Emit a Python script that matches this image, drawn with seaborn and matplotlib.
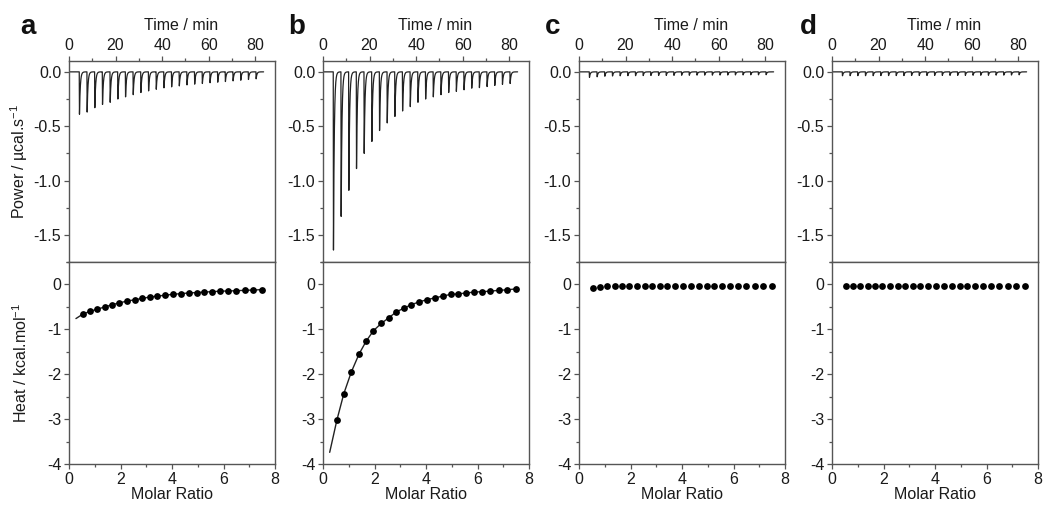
import numpy as np
import pandas as pd
import matplotlib
matplotlib.use("Agg")
import matplotlib.pyplot as plt
import seaborn as sns
from matplotlib.ticker import MultipleLocator, FormatStrFormatter

# ===============================
# Data
# ===============================
panel_letters = ["a", "b", "c", "d"]

# injection times (min), same protocol for every titration
inj_times = [4.4, 7.7, 11.0, 14.3, 17.6, 20.9, 24.2, 27.5, 30.8, 34.1, 37.4, 40.7,
             44.0, 47.3, 50.6, 53.9, 57.2, 60.5, 63.8, 67.1, 70.4, 73.7, 77.0, 80.3]
run_end = 83.6

# peak minimum of each injection (ucal/s)
peaks_a = [-0.39, -0.37, -0.33, -0.30, -0.28, -0.25, -0.23, -0.21, -0.19, -0.175, -0.16, -0.147,
           -0.138, -0.129, -0.12, -0.113, -0.107, -0.10, -0.095, -0.089, -0.083, -0.077, -0.07, -0.064]
peaks_b = [-1.64, -1.33, -1.09, -0.89, -0.75, -0.64, -0.54, -0.47, -0.41, -0.36, -0.32, -0.28,
           -0.25, -0.23, -0.21, -0.19, -0.18, -0.165, -0.15, -0.145, -0.135, -0.125, -0.115, -0.107]
peaks_c = [-0.05, -0.045, -0.04, -0.038, -0.036, -0.035, -0.035, -0.034, -0.033, -0.033, -0.032, -0.032,
           -0.031, -0.031, -0.030, -0.030, -0.030, -0.029, -0.029, -0.028, -0.028, -0.027, -0.027, -0.026]
peaks_d = [-0.036, -0.035, -0.035, -0.035, -0.035, -0.034, -0.034, -0.034, -0.034, -0.033, -0.033, -0.033,
           -0.033, -0.032, -0.032, -0.032, -0.032, -0.031, -0.031, -0.031, -0.030, -0.030, -0.029, -0.027]

# integrated heats (kcal/mol) vs molar ratio
molar_ratio = [0.54, 0.81, 1.10, 1.40, 1.68, 1.96, 2.26, 2.56, 2.85, 3.14, 3.43, 3.73,
               4.03, 4.34, 4.65, 4.96, 5.25, 5.56, 5.88, 6.19, 6.50, 6.84, 7.15, 7.48]
heat_a = [-0.66, -0.60, -0.55, -0.50, -0.45, -0.41, -0.37, -0.34, -0.31, -0.28, -0.26, -0.24,
          -0.22, -0.205, -0.19, -0.18, -0.17, -0.16, -0.15, -0.145, -0.14, -0.13, -0.125, -0.115]
heat_b = [-3.02, -2.43, -1.95, -1.55, -1.26, -1.03, -0.87, -0.74, -0.61, -0.53, -0.45, -0.39,
          -0.34, -0.30, -0.26, -0.22, -0.21, -0.19, -0.17, -0.16, -0.15, -0.13, -0.12, -0.10]
heat_c = [-0.07, -0.05, -0.045, -0.04, -0.04, -0.04, -0.04, -0.035, -0.035, -0.035, -0.035, -0.035,
          -0.03, -0.03, -0.03, -0.03, -0.03, -0.03, -0.03, -0.03, -0.03, -0.03, -0.03, -0.03]
heat_d = [-0.04, -0.035, -0.035, -0.035, -0.035, -0.035, -0.035, -0.03, -0.03, -0.03, -0.03, -0.03,
          -0.03, -0.03, -0.03, -0.03, -0.03, -0.03, -0.03, -0.03, -0.03, -0.03, -0.03, -0.03]

# fitted binding curves (only a and b have one)
fit_a_x = [0.27] + molar_ratio
fit_a_y = [-0.76] + heat_a
fit_b_x = [0.26] + molar_ratio
fit_b_y = [-3.74] + heat_b

peaks_all = [peaks_a, peaks_b, peaks_c, peaks_d]
heats_all = [heat_a, heat_b, heat_c, heat_d]
fits_all = [(fit_a_x, fit_a_y), (fit_b_x, fit_b_y), None, None]


def build_trace(times, depths, end):
    # sharp drop at each injection, quick exponential return to baseline
    t_out = [0.0]
    y_out = [0.0]
    for i, (t0, a) in enumerate(zip(times, depths)):
        t_next = times[i + 1] if i + 1 < len(times) else end
        t_out += [t0, t0 + 0.1]
        y_out += [0.0, a]
        tt = np.arange(t0 + 0.15, t_next, 0.05)
        t_out += list(tt)
        y_out += list(a * np.exp(-(tt - t0 - 0.1) / 0.35))
    t_out.append(end)
    y_out.append(0.0)
    return pd.DataFrame({"time": t_out, "power": y_out})


# ===============================
# Style
# ===============================
sns.set_style("ticks")
plt.rcParams["font.family"] = ["Liberation Sans", "DejaVu Sans"]
plt.rcParams["axes.unicode_minus"] = False
plt.rcParams["mathtext.default"] = "regular"
plt.rcParams["axes.edgecolor"] = "#555555"
plt.rcParams["xtick.color"] = "#555555"
plt.rcParams["ytick.color"] = "#555555"
plt.rcParams["xtick.labelcolor"] = "#1a1a1a"
plt.rcParams["ytick.labelcolor"] = "#1a1a1a"
plt.rcParams["axes.labelcolor"] = "#1a1a1a"

fig = plt.figure(figsize=(10.5, 5.25), dpi=100)

lefts = [69, 323, 579, 832]
w = 206 / 1050
fs_tick = 11.5
fs_label = 11.5

for k in range(4):
    l = lefts[k] / 1050
    ax_top = fig.add_axes([l, 1 - 262 / 525, w, 201 / 525])
    ax_bot = fig.add_axes([l, 1 - 464 / 525, w, 202 / 525])

    # --- raw power trace ---
    df_tr = build_trace(inj_times, peaks_all[k], run_end)
    sns.lineplot(data=df_tr, x="time", y="power", ax=ax_top, color="#222222",
                 linewidth=0.9, sort=False, estimator=None)
    ax_top.set_xlim(0, 88.5)
    ax_top.set_ylim(-1.75, 0.1)
    ax_top.xaxis.tick_top()
    ax_top.xaxis.set_label_position("top")
    ax_top.xaxis.set_major_locator(MultipleLocator(20))
    ax_top.xaxis.set_minor_locator(MultipleLocator(10))
    ax_top.yaxis.set_major_locator(MultipleLocator(0.5))
    ax_top.yaxis.set_minor_locator(MultipleLocator(0.25))
    ax_top.yaxis.set_major_formatter(FormatStrFormatter("%.1f"))
    ax_top.set_xlabel("Time / min", fontsize=fs_label)
    ax_top.xaxis.set_label_coords(0.545, 1.155)
    ax_top.set_ylabel("")

    # --- integrated heats ---
    df_h = pd.DataFrame({"ratio": molar_ratio, "heat": heats_all[k]})
    if fits_all[k] is not None:
        fx, fy = fits_all[k]
        df_f = pd.DataFrame({"ratio": fx, "heat": fy})
        sns.lineplot(data=df_f, x="ratio", y="heat", ax=ax_bot, color="#222222",
                     linewidth=1.0, sort=False, estimator=None)
    sns.scatterplot(data=df_h, x="ratio", y="heat", ax=ax_bot, color="black",
                    s=24, edgecolor="black", linewidth=0, zorder=3)
    ax_bot.set_xlim(0, 8)
    ax_bot.set_ylim(-4, 0.5)
    ax_bot.xaxis.set_major_locator(MultipleLocator(2))
    ax_bot.xaxis.set_minor_locator(MultipleLocator(1))
    ax_bot.yaxis.set_major_locator(MultipleLocator(1))
    ax_bot.yaxis.set_minor_locator(MultipleLocator(0.5))
    ax_bot.set_xlabel("Molar Ratio", fontsize=fs_label, labelpad=0)
    ax_bot.set_ylabel("")

    for ax in (ax_top, ax_bot):
        for sp in ax.spines.values():
            sp.set_visible(True)
            sp.set_linewidth(1.0)
        ax.tick_params(which="major", length=3.5, width=0.9, labelsize=fs_tick, pad=2)
        ax.tick_params(which="minor", length=2.5, width=0.9)
        ax.tick_params(axis="y", right=False, which="both")
    ax_top.tick_params(axis="x", which="both", bottom=False, top=True)
    ax_bot.tick_params(axis="x", which="both", top=False, bottom=True)

    if k == 0:
        ax_top.set_ylabel("Power / \u00b5cal.s$^{-1}$", fontsize=fs_label)
        ax_top.yaxis.set_label_coords(-0.19, 0.5)
        ax_bot.set_ylabel("Heat / kcal.mol$^{-1}$", fontsize=fs_label)
        ax_bot.yaxis.set_label_coords(-0.19, 0.5)

    letter_x = [28, 297, 553, 808][k]
    fig.text(letter_x / 1050, 1 - 27 / 525, panel_letters[k], fontsize=20,
             fontweight="bold", ha="center", va="center", color="#111111")

fig.savefig("out.png", dpi=100)
